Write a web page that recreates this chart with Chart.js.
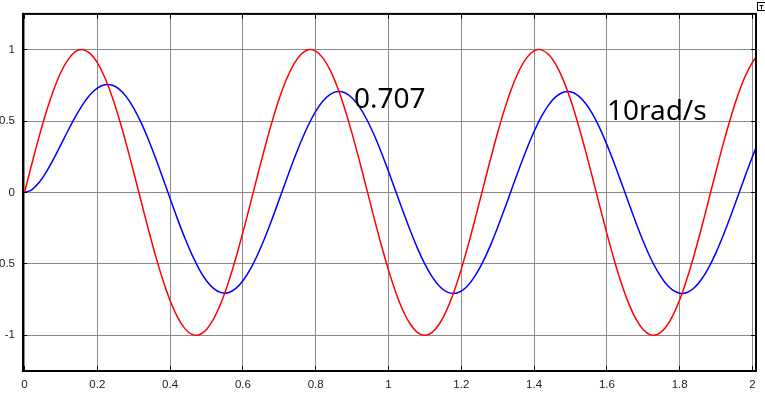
<!DOCTYPE html>
<html>
<head>
<meta charset="utf-8">
<script src="https://cdn.jsdelivr.net/npm/chart.js@4/dist/chart.umd.min.js"></script>
<style>
html,body{margin:0;padding:0;background:#fff;}
#wrap{width:765px;height:393px;position:relative;}
</style>
</head>
<body>
<div id="wrap"><canvas id="c" width="765" height="393"></canvas></div>
<script>
// time samples (s)
const timeValues = [0,0.02,0.04,0.06,0.08,0.1,0.12,0.14,0.16,0.18,0.2,0.22,0.24,0.26,0.28,0.3,0.32,0.34,0.36,0.38,0.4,0.42,0.44,0.46,0.48,0.5,0.52,0.54,0.56,0.58,0.6,0.62,0.64,0.66,0.68,0.7,0.72,0.74,0.76,0.78,0.8,0.82,0.84,0.86,0.88,0.9,0.92,0.94,0.96,0.98,1.0,1.02,1.04,1.06,1.08,1.1,1.12,1.14,1.16,1.18,1.2,1.22,1.24,1.26,1.28,1.3,1.32,1.34,1.36,1.38,1.4,1.42,1.44,1.46,1.48,1.5,1.52,1.54,1.56,1.58,1.6,1.62,1.64,1.66,1.68,1.7,1.72,1.74,1.76,1.78,1.8,1.82,1.84,1.86,1.88,1.9,1.92,1.94,1.96,1.98,2.0,2.02];
// red: input signal
const inputValues = [0,0.1987,0.3894,0.5646,0.7174,0.8415,0.9320,0.9854,0.9996,0.9738,0.9093,0.8085,0.6755,0.5155,0.3350,0.1411,-0.0584,-0.2555,-0.4425,-0.6119,-0.7568,-0.8716,-0.9516,-0.9937,-0.9962,-0.9589,-0.8835,-0.7728,-0.6313,-0.4646,-0.2794,-0.0831,0.1165,0.3115,0.4941,0.6570,0.7937,0.8987,0.9679,0.9985,0.9894,0.9407,0.8546,0.7344,0.5849,0.4121,0.2229,0.0248,-0.1743,-0.3665,-0.5440,-0.6999,-0.8278,-0.9228,-0.9809,-1.0000,-0.9792,-0.9193,-0.8228,-0.6935,-0.5366,-0.3583,-0.1656,0.0336,0.2315,0.4201,0.5921,0.7404,0.8591,0.9437,0.9906,0.9980,0.9657,0.8948,0.7883,0.6503,0.4864,0.3032,0.1078,-0.0919,-0.2879,-0.4724,-0.6381,-0.7785,-0.8876,-0.9614,-0.9969,-0.9927,-0.9489,-0.8672,-0.7510,-0.6049,-0.4346,-0.2470,-0.0496,0.1498,0.3433,0.5230,0.6819,0.8136,0.9129,0.9758];
// blue: system response
const outputValues = [0,0.0187,0.0693,0.1441,0.2350,0.3346,0.4354,0.5310,0.6154,0.6832,0.7304,0.7539,0.7518,0.7234,0.6690,0.5905,0.4904,0.3724,0.2408,0.1008,-0.0425,-0.1832,-0.3160,-0.4357,-0.5378,-0.6180,-0.6733,-0.7015,-0.7016,-0.6736,-0.6186,-0.5388,-0.4375,-0.3187,-0.1871,-0.0480,0.0930,0.2304,0.3586,0.4725,0.5676,0.6401,0.6871,0.7066,0.6980,0.6616,0.5989,0.5123,0.4052,0.2820,0.1476,0.0072,-0.1334,-0.2688,-0.3933,-0.5022,-0.5911,-0.6564,-0.6956,-0.7070,-0.6903,-0.6460,-0.5759,-0.4829,-0.3707,-0.2437,-0.1069,0.0341,0.1737,0.3065,0.4270,0.5304,0.6128,0.6707,0.7019,0.7050,0.6801,0.6281,0.5510,0.4520,0.3349,0.2045,0.0660,-0.0752,-0.2135,-0.3431,-0.4591,-0.5568,-0.6323,-0.6826,-0.7057,-0.7006,-0.6676,-0.6080,-0.5242,-0.4195,-0.2980,-0.1647,-0.0248,0.1160,0.2524,0.3786];
// tick labels
const xTickValues = [0,0.2,0.4,0.6,0.8,1.0,1.2,1.4,1.6,1.8,2.0];
const xTickLabels = ['0','0.2','0.4','0.6','0.8','1','1.2','1.4','1.6','1.8','2'];
const yTickValues = [-1,-0.5,0,0.5,1];
const yTickLabels = ['-1','-0.5','0','0.5','1'];
// annotation texts and their anchors (data units)
const noteTexts = ['0.707','10rad/s'];
const noteX = [0.905,1.600];
const noteY = [0.593,0.510];

const redPts = timeValues.map((t,i)=>({x:t,y:inputValues[i]}));
const bluePts = timeValues.map((t,i)=>({x:t,y:outputValues[i]}));

const framePlugin = {
  id:'frame',
  afterDraw(chart){
    const ctx = chart.ctx;
    const a = chart.chartArea;
    const xs = chart.scales.x, ys = chart.scales.y;
    ctx.save();
    // inward ticks
    ctx.strokeStyle = '#000';
    ctx.lineWidth = 1;
    const tl = 5;
    xTickValues.forEach(v=>{
      const px = Math.round(xs.getPixelForValue(v)-0.5)+0.5;
      ctx.beginPath();
      ctx.moveTo(px,a.bottom); ctx.lineTo(px,a.bottom-tl);
      ctx.moveTo(px,a.top); ctx.lineTo(px,a.top+tl);
      ctx.stroke();
    });
    yTickValues.forEach(v=>{
      const py = Math.round(ys.getPixelForValue(v)-0.5)+0.5;
      ctx.beginPath();
      ctx.moveTo(a.left,py); ctx.lineTo(a.left+tl,py);
      ctx.moveTo(a.right,py); ctx.lineTo(a.right-tl,py);
      ctx.stroke();
    });
    // border
    ctx.lineWidth = 2;
    ctx.strokeRect(a.left+1, a.top, a.right-a.left-1, a.bottom-a.top);
    // annotations
    ctx.fillStyle = '#000';
    ctx.font = '28px "Noto Sans", sans-serif';
    ctx.textAlign = 'left';
    ctx.textBaseline = 'alphabetic';
    noteTexts.forEach((t,i)=>{
      ctx.fillText(t, xs.getPixelForValue(noteX[i]), ys.getPixelForValue(noteY[i]));
    });
    // small corner box
    ctx.lineWidth = 1;
    ctx.strokeRect(757.5, 2.5, 8, 8);
    ctx.beginPath();
    ctx.moveTo(759.5,5.5); ctx.lineTo(763.5,5.5);
    ctx.moveTo(761.5,5.5); ctx.lineTo(761.5,9.5);
    ctx.stroke();
    ctx.restore();
  }
};

new Chart(document.getElementById('c'), {
  type:'line',
  data:{
    datasets:[
      {data:redPts, borderColor:'#ff0000', borderWidth:1.5, pointRadius:0, tension:0.35, fill:false},
      {data:bluePts, borderColor:'#0000ff', borderWidth:1.5, pointRadius:0, tension:0.35, fill:false}
    ]
  },
  options:{
    responsive:false,
    animation:false,
    events:[],
    layout:{padding:{left:0,right:9,top:10,bottom:0}},
    plugins:{legend:{display:false}, tooltip:{enabled:false}},
    scales:{
      x:{
        type:'linear',
        min:-0.00687, max:2.0096,
        afterBuildTicks(s){ s.ticks = xTickValues.map(v=>({value:v})); },
        afterFit(s){ s.height = 22; },
        grid:{color:'#8a8a8a', lineWidth:1, drawTicks:false},
        border:{display:false},
        ticks:{
          padding:7,
          maxRotation:0,
          autoSkip:false,
          color:'#222',
          font:{family:'"Liberation Sans", Arial, sans-serif', size:11.5},
          callback(v){ const i = xTickValues.indexOf(v); return i>=0 ? xTickLabels[i] : ''; }
        }
      },
      y:{
        type:'linear',
        min:-1.25, max:1.25,
        afterBuildTicks(s){ s.ticks = yTickValues.map(v=>({value:v})); },
        afterFit(s){ s.width = 22; },
        grid:{color:'#8a8a8a', lineWidth:1, drawTicks:false},
        border:{display:false},
        ticks:{
          padding:7,
          autoSkip:false,
          color:'#222',
          font:{family:'"Liberation Sans", Arial, sans-serif', size:11.5},
          callback(v){ const i = yTickValues.indexOf(v); return i>=0 ? yTickLabels[i] : ''; }
        }
      }
    }
  },
  plugins:[framePlugin]
});
</script>
</body>
</html>
